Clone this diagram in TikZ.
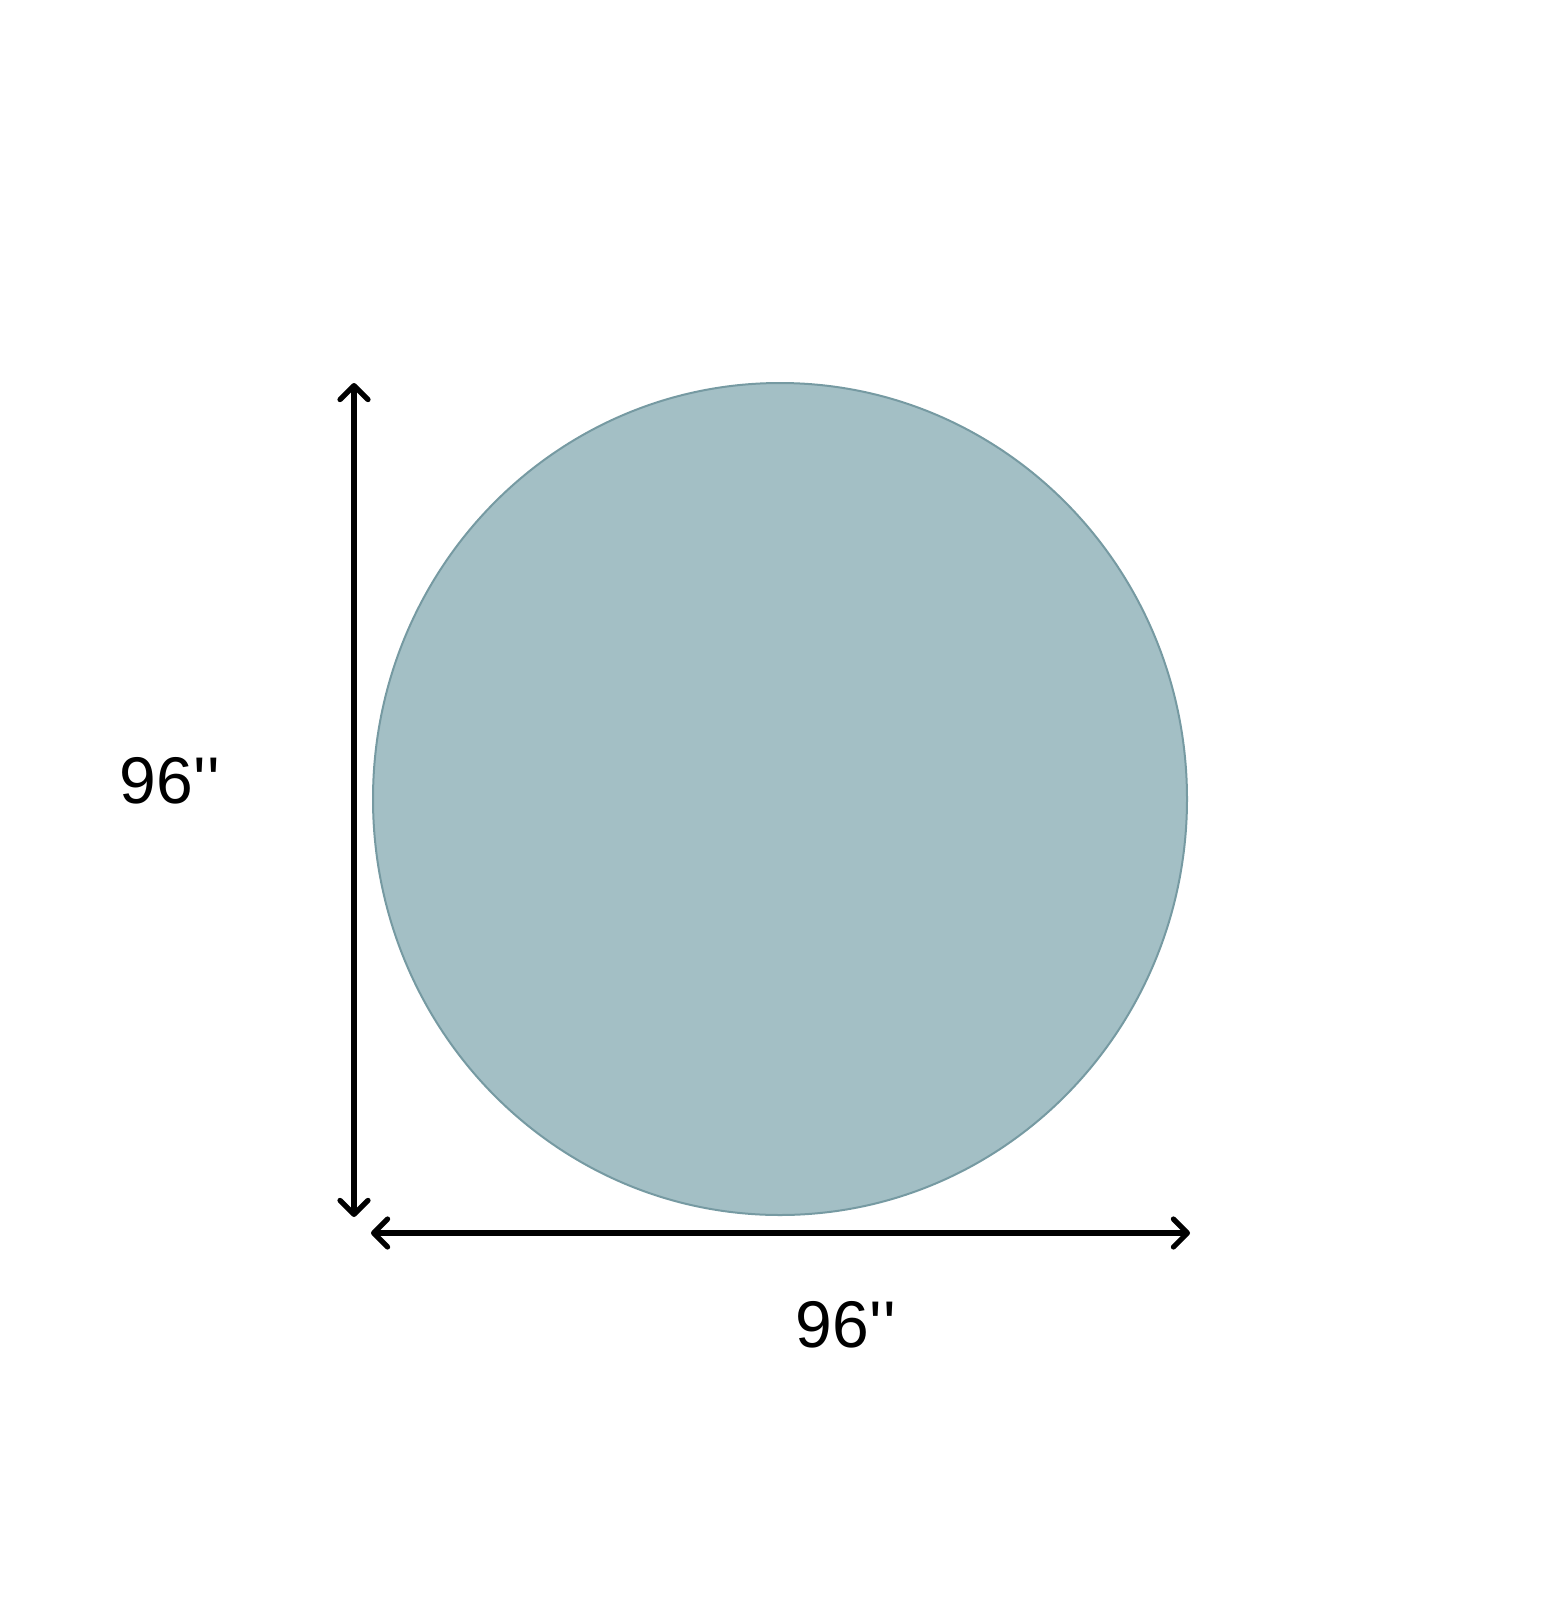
\documentclass[tikz,border=0pt]{standalone}
\usepackage{fontspec}
\newfontfamily\lab{Liberation Sans}
\usetikzlibrary{arrows.meta}
\definecolor{rugfill}{RGB}{163,191,197}
\definecolor{rugedge}{RGB}{118,154,162}
\tikzset{
  dimarrow/.style={line width=2.6pt, line cap=round, line join=round,
    arrows={Straight Barb[length=7pt,width=14pt,line cap=round,line join=round]-Straight Barb[length=7pt,width=14pt,line cap=round,line join=round]}},
  dimlabel/.style={font=\lab\fontsize{33}{38}\selectfont, inner sep=0pt},
  rug/.style={fill=rugfill, draw=rugedge, line width=1pt}
}
\begin{document}
\begin{tikzpicture}[x=0.5pt,y=-0.5pt]
\useasboundingbox[fill=white] (0,0) rectangle (1564,1600);
\draw[rug] (780,799) ellipse [x radius=407, y radius=416];
\coordinate (vtop) at (354,383);
\coordinate (vbot) at (354,1217);
\coordinate (hleft) at (371,1233);
\coordinate (hright) at (1190,1233);
\draw[dimarrow] (vtop) -- (vbot);
\draw[dimarrow] (hleft) -- (hright);
\node[dimlabel] (hlabel) at (170,781) {96\symbol{39}\kern0.8pt\symbol{39}};
\node[dimlabel] (wlabel) at (846,1325) {96\symbol{39}\kern0.8pt\symbol{39}};
\end{tikzpicture}
\end{document}
